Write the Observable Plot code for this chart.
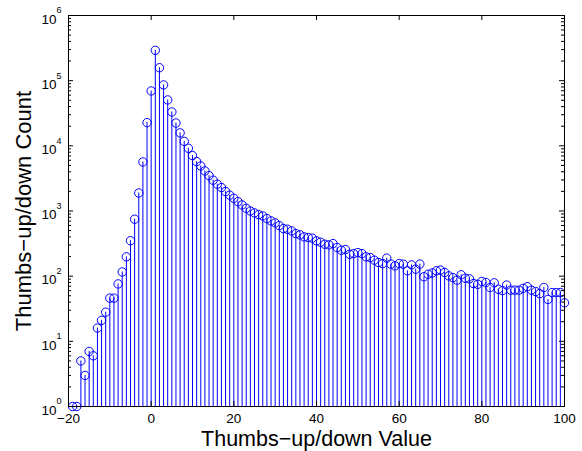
<!DOCTYPE html>
<html>
<head>
<meta charset="utf-8">
<script src="https://cdn.jsdelivr.net/npm/d3@7"></script>
<script src="https://cdn.jsdelivr.net/npm/@observablehq/plot@0.6"></script>
<style>
  html, body { margin: 0; padding: 0; background: #fff; }
  #chart { width: 582px; height: 451px; }
</style>
</head>
<body>
<div id="chart"></div>
<script>
// ---- data ----
const values = [
  -19, -18, -17, -16, -15, -14, -13, -12, -11, -10,
  -9, -8, -7, -6, -5, -4, -3, -2, -1, 0,
  1, 2, 3, 4, 5, 6, 7, 8, 9, 10,
  11, 12, 13, 14, 15, 16, 17, 18, 19, 20,
  21, 22, 23, 24, 25, 26, 27, 28, 29, 30,
  31, 32, 33, 34, 35, 36, 37, 38, 39, 40,
  41, 42, 43, 44, 45, 46, 47, 48, 49, 50,
  51, 52, 53, 54, 55, 56, 57, 58, 59, 60,
  61, 62, 63, 64, 65, 66, 67, 68, 69, 70,
  71, 72, 73, 74, 75, 76, 77, 78, 79, 80,
  81, 82, 83, 84, 85, 86, 87, 88, 89, 90,
  91, 92, 93, 94, 95, 96, 97, 98, 99, 100
];
const counts = [
  1, 1, 5, 3, 7, 6, 16, 21, 28, 46,
  46, 76, 116, 198, 350, 748, 1890, 5660, 22700, 69500,
  292000, 158000, 86000, 50600, 33100, 22400, 15800, 11700, 9180, 7080,
  5720, 4900, 4120, 3490, 2970, 2580, 2290, 1990, 1750, 1570,
  1390, 1240, 1100, 1000, 935, 880, 840, 765, 705, 657,
  597, 537, 525, 495, 450, 430, 401, 391, 383, 348,
  332, 309, 302, 316, 275, 250, 256, 217, 222, 230,
  222, 198, 193, 176, 162, 156, 189, 153, 144, 156,
  153, 121, 149, 128, 153, 98, 107, 112, 121, 124,
  114, 101, 95, 87, 105, 93, 91, 77, 75, 83,
  80, 67, 79, 63, 60, 73, 61, 61, 61, 65,
  69, 61, 58, 54, 67, 44, 56, 56, 56, 39
];
const xTickValues = [-20, 0, 20, 40, 60, 80, 100];
const xTickLabels = ["−20", "0", "20", "40", "60", "80", "100"];
const yTickValues = [1, 10, 100, 1000, 10000, 100000, 1000000];
const yTickExponents = ["0", "1", "2", "3", "4", "5", "6"];
const xLabel = "Thumbs−up/down Value";
const yLabel = "Thumbs−up/down Count";

// ---- tables built from the arrays ----
const data = values.map((v, i) => ({value: v, count: counts[i]}));
const xTicks = xTickValues.map((v, i) => ({v, label: xTickLabels[i]}));
const yTicks = yTickValues.map((v, i) => ({v, exp: yTickExponents[i]}));
const yMinor = d3.scaleLog().domain([1, 1e6]).ticks().filter(t => !yTickValues.includes(t));

const W = 582, H = 451;
const mL = 68, mR = 18, mT = 15, mB = 45;
const iW = W - mL - mR, iH = H - mT - mB;
const blue = "#0000ff";
const font = "'Liberation Sans', Arial, Helvetica, sans-serif";

const chart = Plot.plot({
  width: W,
  height: H,
  marginLeft: mL,
  marginRight: mR,
  marginTop: mT,
  marginBottom: mB,
  style: {fontFamily: font, background: "#fff", color: "#000"},
  x: {type: "linear", domain: [-20, 100], axis: null},
  y: {type: "log", domain: [1, 1e6], axis: null},
  marks: [
    // stems
    Plot.ruleX(data, {x: "value", y1: 1, y2: "count", stroke: blue, strokeWidth: 1}),
    // markers
    Plot.dot(data, {x: "value", y: "count", r: 4.2, stroke: blue, fill: "none", strokeWidth: 1}),
    // box
    Plot.frame({stroke: "#000", strokeWidth: 1}),
    // x ticks (inward, bottom and top)
    Plot.ruleX(xTicks, {x: "v", insetTop: iH - 5, stroke: "#000"}),
    Plot.ruleX(xTicks, {x: "v", insetBottom: iH - 5, stroke: "#000"}),
    // y major ticks (inward, left and right)
    Plot.ruleY(yTicks, {y: "v", insetRight: iW - 5, stroke: "#000"}),
    Plot.ruleY(yTicks, {y: "v", insetLeft: iW - 5, stroke: "#000"}),
    // y minor ticks
    Plot.ruleY(yMinor, {y: d => d, insetRight: iW - 3, stroke: "#000"}),
    Plot.ruleY(yMinor, {y: d => d, insetLeft: iW - 3, stroke: "#000"}),
    // x tick labels
    Plot.text(xTicks, {x: "v", text: "label", frameAnchor: "bottom", lineAnchor: "middle", dy: 12.5, fontSize: 13.5, fill: "#000"}),
    // y tick labels: 10^k
    Plot.text(yTicks, {y: "v", text: () => "10", frameAnchor: "left", textAnchor: "end", lineAnchor: "middle", dx: -12, dy: 4, fontSize: 13.5, fill: "#000"}),
    Plot.text(yTicks, {y: "v", text: "exp", frameAnchor: "left", textAnchor: "start", lineAnchor: "middle", dx: -12, dy: -5, fontSize: 9, fill: "#000"}),
    // axis labels
    Plot.text([xLabel], {text: d => d, frameAnchor: "bottom", textAnchor: "middle", lineAnchor: "middle", dy: 33, fontSize: 21.5, fill: "#000"}),
    Plot.text([yLabel], {text: d => d, frameAnchor: "left", textAnchor: "middle", lineAnchor: "middle", dx: -45, rotate: -90, fontSize: 22, fill: "#000"})
  ]
});
document.getElementById("chart").appendChild(chart);
</script>
</body>
</html>
